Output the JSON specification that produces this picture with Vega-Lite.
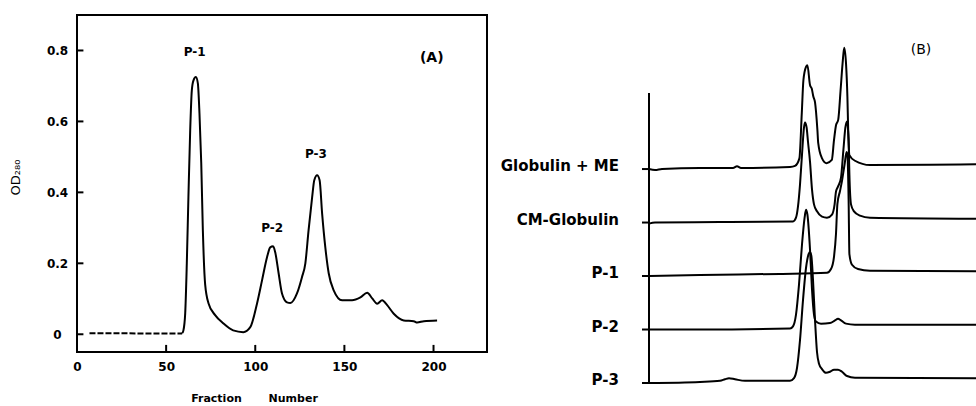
{
"$schema":"https://vega.github.io/schema/vega-lite/v6.json",
"background":"white",
"padding":{"left":8,"top":14,"right":0,"bottom":0},
"bounds":"flush",
"spacing":3,
"config":{"font":"DejaVu Sans","view":{"stroke":null},"axis":{"grid":false}},
"datasets":{
"elution_dash":[{"fraction":7,"od":0.003},{"fraction":59,"od":0.002}],
"elution":[
{"fraction":59,"od":0.003},{"fraction":59.7,"od":0.011},{"fraction":60.7,"od":0.059},{"fraction":61.6,"od":0.2},{"fraction":62.5,"od":0.386},{"fraction":63.5,"od":0.575},{"fraction":64.4,"od":0.687},{"fraction":65.3,"od":0.715},{"fraction":66.7,"od":0.725},{"fraction":67.8,"od":0.707},{"fraction":68.7,"od":0.623},{"fraction":69.7,"od":0.482},{"fraction":70.6,"od":0.293},{"fraction":71.9,"od":0.14},{"fraction":73.8,"od":0.087},{"fraction":77.5,"od":0.054},{"fraction":82,"od":0.031},{"fraction":87.6,"od":0.011},{"fraction":93.3,"od":0.006},{"fraction":97.2,"od":0.02},{"fraction":101,"od":0.087},{"fraction":103.8,"od":0.152},{"fraction":106.6,"od":0.217},{"fraction":108.4,"od":0.245},{"fraction":110,"od":0.248},{"fraction":111.2,"od":0.231},{"fraction":113.1,"od":0.172},{"fraction":115,"od":0.115},{"fraction":117.8,"od":0.09},{"fraction":119.7,"od":0.088},{"fraction":123.4,"od":0.115},{"fraction":126.2,"od":0.161},{"fraction":128.1,"od":0.2},{"fraction":129.9,"od":0.293},{"fraction":131.9,"od":0.386},{"fraction":133.1,"od":0.434},{"fraction":134.7,"od":0.448},{"fraction":136.1,"od":0.434},{"fraction":137.5,"od":0.341},{"fraction":139.3,"od":0.245},{"fraction":141.2,"od":0.172},{"fraction":144,"od":0.124},{"fraction":148.7,"od":0.096},{"fraction":154.3,"od":0.096},{"fraction":159,"od":0.104},{"fraction":162.8,"od":0.117},{"fraction":165.6,"od":0.101},{"fraction":168.4,"od":0.086},{"fraction":171.2,"od":0.096},{"fraction":174,"od":0.082},{"fraction":177.7,"od":0.058},{"fraction":183.3,"od":0.039},{"fraction":188.9,"od":0.037},{"fraction":190.8,"od":0.033},{"fraction":194.6,"od":0.037},{"fraction":202,"od":0.039}
],
"xticks":[{"fraction":50},{"fraction":100},{"fraction":150},{"fraction":200}],
"yticks":[{"od":0},{"od":0.2},{"od":0.4},{"od":0.6},{"od":0.8}],
"peaks":[{"label":"P-1","fraction":66,"od":0.795},{"label":"P-2","fraction":109.5,"od":0.3},{"label":"P-3","fraction":134,"od":0.507}],
"samples":[{"trace":"Globulin + ME","offset":4},{"trace":"CM-Globulin","offset":3},{"trace":"P-1","offset":2},{"trace":"P-2","offset":1},{"trace":"P-3","offset":0}],
"traces":[
{"trace":"Globulin + ME","x":0,"s":0},{"trace":"Globulin + ME","x":1.5,"s":-0.02},{"trace":"Globulin + ME","x":3.25,"s":0},{"trace":"Globulin + ME","x":12.75,"s":0.02},{"trace":"Globulin + ME","x":21,"s":0.02},{"trace":"Globulin + ME","x":22,"s":0.05},{"trace":"Globulin + ME","x":23,"s":0.02},{"trace":"Globulin + ME","x":35.25,"s":0.04},{"trace":"Globulin + ME","x":36.5,"s":0.06},{"trace":"Globulin + ME","x":37.6,"s":0.2},{"trace":"Globulin + ME","x":38.2,"s":1.05},{"trace":"Globulin + ME","x":38.6,"s":1.66},{"trace":"Globulin + ME","x":39.25,"s":1.91},{"trace":"Globulin + ME","x":39.6,"s":1.94},{"trace":"Globulin + ME","x":40.25,"s":1.57},{"trace":"Globulin + ME","x":40.7,"s":1.5},{"trace":"Globulin + ME","x":41.1,"s":1.35},{"trace":"Globulin + ME","x":41.5,"s":1.25},{"trace":"Globulin + ME","x":42.1,"s":0.73},{"trace":"Globulin + ME","x":42.3,"s":0.49},{"trace":"Globulin + ME","x":43.2,"s":0.21},{"trace":"Globulin + ME","x":44.4,"s":0.11},{"trace":"Globulin + ME","x":45.7,"s":0.17},{"trace":"Globulin + ME","x":46.25,"s":0.54},{"trace":"Globulin + ME","x":46.75,"s":0.82},{"trace":"Globulin + ME","x":47.3,"s":0.92},{"trace":"Globulin + ME","x":47.9,"s":1.48},{"trace":"Globulin + ME","x":48.4,"s":1.98},{"trace":"Globulin + ME","x":48.8,"s":2.27},{"trace":"Globulin + ME","x":49.25,"s":1.98},{"trace":"Globulin + ME","x":49.6,"s":1.35},{"trace":"Globulin + ME","x":49.8,"s":0.73},{"trace":"Globulin + ME","x":50.1,"s":0.26},{"trace":"Globulin + ME","x":51.5,"s":0.155},{"trace":"Globulin + ME","x":55.25,"s":0.075},{"trace":"Globulin + ME","x":70.25,"s":0.08},{"trace":"Globulin + ME","x":81.75,"s":0.09},
{"trace":"CM-Globulin","x":0,"s":-0.02},{"trace":"CM-Globulin","x":1.5,"s":0},{"trace":"CM-Globulin","x":17.75,"s":0.01},{"trace":"CM-Globulin","x":36,"s":0.02},{"trace":"CM-Globulin","x":36.75,"s":0.09},{"trace":"CM-Globulin","x":37.25,"s":0.3},{"trace":"CM-Globulin","x":37.75,"s":0.71},{"trace":"CM-Globulin","x":38.25,"s":1.27},{"trace":"CM-Globulin","x":38.75,"s":1.78},{"trace":"CM-Globulin","x":39,"s":1.87},{"trace":"CM-Globulin","x":39.4,"s":1.78},{"trace":"CM-Globulin","x":39.75,"s":1.51},{"trace":"CM-Globulin","x":40.25,"s":1.14},{"trace":"CM-Globulin","x":40.75,"s":0.62},{"trace":"CM-Globulin","x":41.25,"s":0.34},{"trace":"CM-Globulin","x":42,"s":0.21},{"trace":"CM-Globulin","x":43.25,"s":0.11},{"trace":"CM-Globulin","x":44.5,"s":0.09},{"trace":"CM-Globulin","x":45.75,"s":0.15},{"trace":"CM-Globulin","x":46.4,"s":0.34},{"trace":"CM-Globulin","x":46.75,"s":0.58},{"trace":"CM-Globulin","x":47.25,"s":0.67},{"trace":"CM-Globulin","x":48,"s":0.84},{"trace":"CM-Globulin","x":48.6,"s":1.36},{"trace":"CM-Globulin","x":49.1,"s":1.78},{"trace":"CM-Globulin","x":49.5,"s":1.89},{"trace":"CM-Globulin","x":49.9,"s":1.55},{"trace":"CM-Globulin","x":50.1,"s":0.9},{"trace":"CM-Globulin","x":50.5,"s":0.34},{"trace":"CM-Globulin","x":51.25,"s":0.21},{"trace":"CM-Globulin","x":52.75,"s":0.13},{"trace":"CM-Globulin","x":55.25,"s":0.09},{"trace":"CM-Globulin","x":81.75,"s":0.07},
{"trace":"P-1","x":0,"s":0},{"trace":"P-1","x":12.75,"s":0.02},{"trace":"P-1","x":32.75,"s":0.04},{"trace":"P-1","x":44.5,"s":0.06},{"trace":"P-1","x":45.5,"s":0.13},{"trace":"P-1","x":46.25,"s":0.36},{"trace":"P-1","x":46.75,"s":0.79},{"trace":"P-1","x":47.1,"s":1.35},{"trace":"P-1","x":47.75,"s":1.59},{"trace":"P-1","x":48.25,"s":1.78},{"trace":"P-1","x":48.9,"s":2.09},{"trace":"P-1","x":49.4,"s":2.32},{"trace":"P-1","x":49.6,"s":2.28},{"trace":"P-1","x":49.9,"s":1.44},{"trace":"P-1","x":50.1,"s":0.41},{"trace":"P-1","x":50.75,"s":0.21},{"trace":"P-1","x":52.25,"s":0.13},{"trace":"P-1","x":55.25,"s":0.1},{"trace":"P-1","x":81.75,"s":0.09},
{"trace":"P-2","x":0,"s":0},{"trace":"P-2","x":12.75,"s":0},{"trace":"P-2","x":35.25,"s":0.02},{"trace":"P-2","x":36,"s":0.06},{"trace":"P-2","x":36.75,"s":0.28},{"trace":"P-2","x":37.5,"s":0.84},{"trace":"P-2","x":38.25,"s":1.59},{"trace":"P-2","x":38.9,"s":2.09},{"trace":"P-2","x":39.25,"s":2.24},{"trace":"P-2","x":39.6,"s":2.15},{"trace":"P-2","x":40.25,"s":1.5},{"trace":"P-2","x":40.75,"s":0.75},{"trace":"P-2","x":41.25,"s":0.28},{"trace":"P-2","x":41.75,"s":0.15},{"trace":"P-2","x":43,"s":0.11},{"trace":"P-2","x":45.25,"s":0.12},{"trace":"P-2","x":46.5,"s":0.17},{"trace":"P-2","x":47.25,"s":0.2},{"trace":"P-2","x":48,"s":0.17},{"trace":"P-2","x":49.25,"s":0.11},{"trace":"P-2","x":51.5,"s":0.09},{"trace":"P-2","x":81.75,"s":0.09},
{"trace":"P-3","x":0,"s":0},{"trace":"P-3","x":12.75,"s":0.02},{"trace":"P-3","x":17.75,"s":0.04},{"trace":"P-3","x":19,"s":0.07},{"trace":"P-3","x":20,"s":0.09},{"trace":"P-3","x":21.5,"s":0.07},{"trace":"P-3","x":24,"s":0.04},{"trace":"P-3","x":35.25,"s":0.04},{"trace":"P-3","x":36.25,"s":0.09},{"trace":"P-3","x":37,"s":0.28},{"trace":"P-3","x":37.75,"s":0.8},{"trace":"P-3","x":38.5,"s":1.55},{"trace":"P-3","x":39.25,"s":2.15},{"trace":"P-3","x":39.9,"s":2.41},{"trace":"P-3","x":40.25,"s":2.45},{"trace":"P-3","x":40.6,"s":2.37},{"trace":"P-3","x":41,"s":1.93},{"trace":"P-3","x":41.5,"s":1.18},{"trace":"P-3","x":42,"s":0.58},{"trace":"P-3","x":42.5,"s":0.36},{"trace":"P-3","x":43.25,"s":0.26},{"trace":"P-3","x":44.25,"s":0.19},{"trace":"P-3","x":45.25,"s":0.21},{"trace":"P-3","x":46.25,"s":0.25},{"trace":"P-3","x":47.25,"s":0.25},{"trace":"P-3","x":48.25,"s":0.21},{"trace":"P-3","x":49.5,"s":0.13},{"trace":"P-3","x":51.5,"s":0.1},{"trace":"P-3","x":81.75,"s":0.09}
]
},
"hconcat":[
{
"width":410,"height":337,
"view":{"stroke":"black","strokeWidth":2},
"layer":[
{"data":{"name":"elution_dash"},
 "mark":{"type":"line","color":"black","strokeWidth":2,"strokeDash":[6,2]},
 "encoding":{
  "x":{"field":"fraction","type":"quantitative","scale":{"domain":[0,230],"nice":false,"zero":false},
   "axis":{"values":[0,50,100,150,200],"title":"Fraction\u00a0\u00a0\u00a0\u00a0\u00a0\u00a0\u00a0Number","titleFontSize":11,"titleFontWeight":"bold","titleColor":"black","titleX":177,"titleY":46,"titleBaseline":"middle","titleAlign":"center","domain":false,"ticks":true,"tickSize":0,"tickOpacity":0,"labelFontSize":12,"labelFontWeight":"bold","labelColor":"black","labelPadding":9,"labelFlush":false,"labelOverlap":false}},
  "y":{"field":"od","type":"quantitative","scale":{"domain":[-0.05,0.9],"nice":false,"zero":false},
   "axis":{"values":[0,0.2,0.4,0.6,0.8],"format":"~g","title":"OD₂₈₀","titleFontSize":13,"titleFontWeight":"normal","titleColor":"black","titleX":-62,"titleY":162,"titleBaseline":"middle","titleAlign":"center","domain":false,"ticks":true,"tickSize":0,"tickOpacity":0,"labelFontSize":12,"labelFontWeight":"bold","labelColor":"black","labelAlign":"center","labelPadding":20,"labelOverlap":false}}
 }},
{"data":{"name":"elution"},
 "mark":{"type":"line","color":"black","strokeWidth":2,"interpolate":"monotone"},
 "encoding":{"x":{"field":"fraction","type":"quantitative"},"y":{"field":"od","type":"quantitative"}}},
{"data":{"name":"xticks"},
 "mark":{"type":"rule","color":"black","strokeWidth":2},
 "encoding":{"x":{"field":"fraction","type":"quantitative"},"y":{"datum":-0.05},"y2":{"datum":-0.03}}},
{"data":{"name":"yticks"},
 "mark":{"type":"rule","color":"black","strokeWidth":2},
 "encoding":{"y":{"field":"od","type":"quantitative"},"x":{"datum":0},"x2":{"datum":3.6}}},
{"data":{"name":"peaks"},
 "mark":{"type":"text","color":"black","fontSize":12,"fontWeight":"bold"},
 "encoding":{"x":{"field":"fraction","type":"quantitative"},"y":{"field":"od","type":"quantitative"},"text":{"field":"label"}}},
{"data":{"values":[{}]},
 "mark":{"type":"text","color":"black","fontSize":14,"fontWeight":"bold"},
 "encoding":{"x":{"datum":199},"y":{"datum":0.78},"text":{"value":"(A)"}}}
]
},
{
"width":486,"height":391,
"view":{"stroke":null},
"layer":[
{"data":{"name":"traces"},
 "transform":[{"lookup":"trace","from":{"data":{"name":"samples"},"key":"trace","fields":["offset"]}},{"calculate":"datum.offset + datum.s","as":"y"}],
 "mark":{"type":"line","color":"black","strokeWidth":2,"interpolate":"monotone","clip":true},
 "encoding":{
  "x":{"field":"x","type":"quantitative","scale":{"domain":[-39.75,81.75],"nice":false,"zero":false},"axis":null},
  "y":{"field":"y","type":"quantitative","scale":{"domain":[-0.43,6.88],"nice":false,"zero":false},"axis":null},
  "detail":{"field":"trace"}}},
{"data":{"values":[{}]},
 "mark":{"type":"rule","color":"black","strokeWidth":2},
 "encoding":{"x":{"datum":0,"axis":null},"y":{"datum":0,"axis":null},"y2":{"datum":5.42}}},
{"data":{"name":"samples"},
 "mark":{"type":"rule","color":"black","strokeWidth":2},
 "encoding":{"x":{"datum":-1.75,"axis":null},"x2":{"datum":0},"y":{"field":"offset","type":"quantitative","axis":null}}},
{"data":{"name":"samples"},
 "mark":{"type":"text","color":"black","align":"right","baseline":"middle","fontSize":15,"fontWeight":"bold","dy":-3},
 "encoding":{"x":{"datum":-7.5,"axis":null},"y":{"field":"offset","type":"quantitative","axis":null},"text":{"field":"trace"}}},
{"data":{"values":[{}]},
 "mark":{"type":"text","color":"black","fontSize":14},
 "encoding":{"x":{"datum":68,"axis":null},"y":{"datum":6.22,"axis":null},"text":{"value":"(B)"}}}
]
}
]
}
